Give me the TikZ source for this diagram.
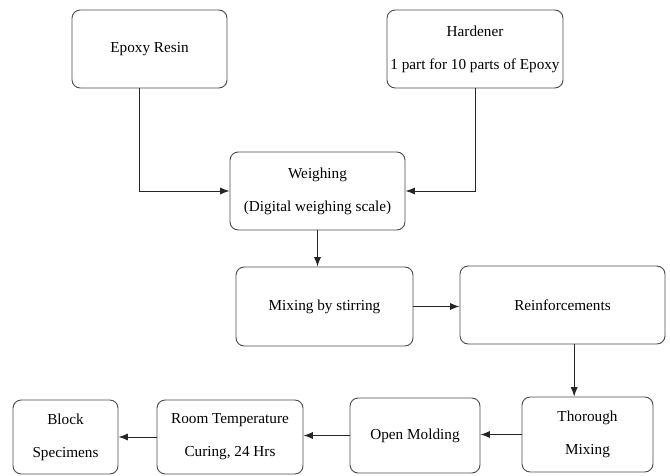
\documentclass[tikz,border=0pt]{standalone}
\usepackage{fontspec}
\setmainfont{Liberation Serif}
\newfontfamily\stagefont{Liberation Serif}
\usetikzlibrary{arrows.meta}
\tikzset{
  stage/.style={draw=black!70, line width=0.8pt, rounded corners=7pt, align=center,
    font=\stagefont\fontsize{13}{28}\selectfont, inner sep=0pt},
  flow/.style={draw=black!85, line width=0.8pt, -{Latex[length=8pt,width=6pt]}}
}
\begin{document}
\begin{tikzpicture}[x=0.03cm,y=-0.03cm]
  \useasboundingbox (0,0) rectangle (670,476);
  % top row
  \node[stage, minimum width=4.65cm, minimum height=2.34cm] (epoxy) at (149.5,49) {Epoxy Resin};
  \node[stage, minimum width=5.28cm, minimum height=2.34cm] (hardener) at (475,49) {Hardener\\1 part for 10 parts of Epoxy};
  \node[stage, minimum width=5.25cm, minimum height=2.34cm] (weigh) at (317.5,191) {Weighing\\(Digital weighing scale)};
  % middle row
  \node[stage, minimum width=5.31cm, minimum height=2.37cm] (mixing) at (324.5,306.5) {Mixing by stirring};
  \node[stage, minimum width=6.15cm, minimum height=2.34cm] (reinf) at (562.5,305) {Reinforcements};
  % bottom row
  \node[stage, minimum width=3.93cm, minimum height=2.25cm] (thorough) at (587.5,434.5) {Thorough\\Mixing};
  \node[stage, minimum width=3.9cm, minimum height=2.25cm] (molding) at (415,435.5) {Open Molding};
  \node[stage, minimum width=4.38cm, minimum height=2.22cm] (curing) at (230,437) {Room Temperature\\Curing, 24 Hrs};
  \node[stage, minimum width=3.15cm, minimum height=2.22cm] (block) at (65.5,437) {Block\\Specimens};
  % connectors
  \draw[flow] ([xshift=-0.3cm]epoxy.south) |- (weigh.west);
  \draw[flow] (hardener.south) |- (weigh.east);
  \draw[flow] (weigh.south) -- (weigh.south |- mixing.north);
  \draw[flow] (mixing.east) -- (mixing.east -| reinf.west);
  \draw[flow] ([xshift=0.35cm]reinf.south) -- ([xshift=0.35cm]reinf.south |- thorough.north);
  \draw[flow] (thorough.west) -- (thorough.west -| molding.east);
  \draw[flow] (molding.west) -- (molding.west -| curing.east);
  \draw[flow] (curing.west) -- (curing.west -| block.east);
\end{tikzpicture}
\end{document}
